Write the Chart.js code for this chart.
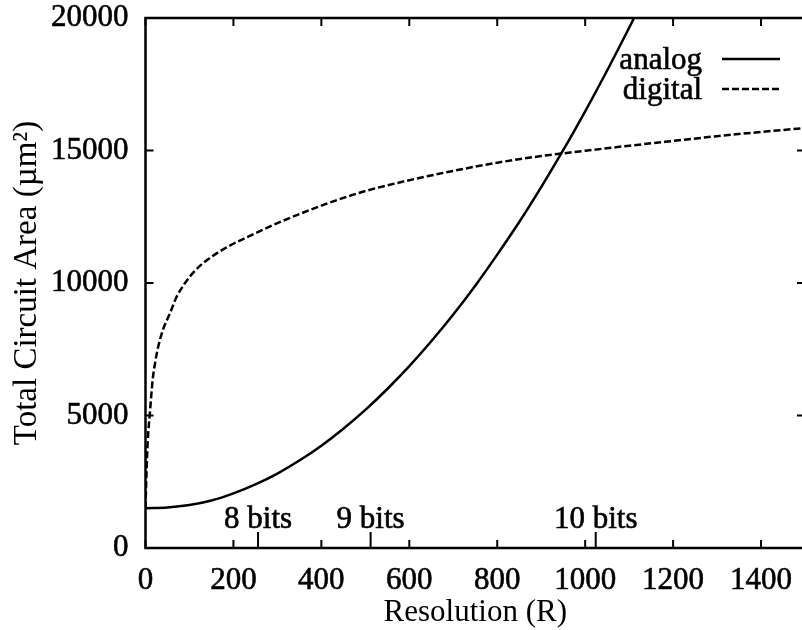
<!DOCTYPE html>
<html>
<head>
<meta charset="utf-8">
<script src="https://cdn.jsdelivr.net/npm/chart.js@4/dist/chart.umd.min.js"></script>
<style>
html,body{margin:0;padding:0;background:#fff;overflow:hidden;}
#wrap{width:810px;height:630px;}
</style>
</head>
<body>
<div id="wrap"><canvas id="c" width="810" height="630"></canvas></div>
<script>
// ---- data ----
const seriesNames = ['analog', 'digital'];

const analogR    = [0, 50, 100, 150, 200, 250, 300, 350, 400, 450, 500, 550, 600, 650, 700, 750, 800, 850, 900, 950, 1000, 1050, 1100, 1150];
const analogArea = [1500, 1530, 1620, 1790, 2060, 2400, 2810, 3300, 3860, 4500, 5210, 6000, 6860, 7800, 8810, 9900, 11070, 12300, 13620, 15010, 16480, 18020, 19630, 21320];

const digitalR    = [0, 2, 5, 10, 16, 22, 29, 40, 56, 70, 90, 110, 131, 160, 193, 230, 268, 300, 350, 400, 450, 500, 600, 700, 800, 900, 1000, 1100, 1200, 1300, 1400, 1500];
const digitalArea = [1500, 2700, 4000, 5100, 6300, 7000, 7600, 8250, 8870, 9450, 10000, 10420, 10750, 11100, 11420, 11720, 12020, 12260, 12600, 12920, 13210, 13470, 13880, 14230, 14540, 14790, 14990, 15180, 15360, 15540, 15700, 15850];

const xTickValues = [0, 200, 400, 600, 800, 1000, 1200, 1400];
const yTickValues = [0, 5000, 10000, 15000, 20000];

const bitPositions = [256, 512, 1024];
const bitLabels = ['8 bits', '9 bits', '10 bits'];

const xTitle = 'Resolution (R)';
const yTitle = 'Total Circuit Area (µm²)';

// ---- styling ----
const FONT = "'Liberation Serif', 'Times New Roman', serif";
const FS = 31;
const INK = '#000';

const decorPlugin = {
  id: 'decor',
  afterDraw(chart) {
    const ctx = chart.ctx;
    const a = chart.chartArea;
    const xs = chart.scales.x, ys = chart.scales.y;
    ctx.save();
    ctx.strokeStyle = INK;
    ctx.fillStyle = INK;
    // frame
    ctx.lineWidth = 2.5;
    ctx.strokeRect(a.left, a.top, a.right - a.left, a.bottom - a.top);
    // inward ticks
    ctx.lineWidth = 2;
    ctx.beginPath();
    xTickValues.forEach(v => {
      const px = xs.getPixelForValue(v);
      ctx.moveTo(px, a.bottom); ctx.lineTo(px, a.bottom - 8);
      ctx.moveTo(px, a.top); ctx.lineTo(px, a.top + 8);
    });
    yTickValues.forEach(v => {
      const py = ys.getPixelForValue(v);
      ctx.moveTo(a.left, py); ctx.lineTo(a.left + 8, py);
      ctx.moveTo(a.right, py); ctx.lineTo(a.right - 8, py);
    });
    // bit marks
    bitPositions.forEach(v => {
      const px = xs.getPixelForValue(v);
      ctx.moveTo(px, a.bottom); ctx.lineTo(px, a.bottom - 16);
    });
    ctx.stroke();
    // bit labels
    ctx.font = FS + 'px ' + FONT;
    ctx.textAlign = 'center';
    ctx.textBaseline = 'alphabetic';
    ctx.lineWidth = 0.6;
    bitPositions.forEach((v, i) => {
      const px = xs.getPixelForValue(v);
      ctx.fillText(bitLabels[i], px, a.bottom - 20);
      ctx.strokeText(bitLabels[i], px, a.bottom - 20);
    });
    // legend
    const rows = [a.top + 41, a.top + 71];
    chart.data.datasets.forEach((ds, i) => {
      const y = rows[i];
      ctx.textAlign = 'right';
      ctx.lineWidth = 0.6;
      ctx.fillText(ds.label, a.right - 103, y + 9.5);
      ctx.strokeText(ds.label, a.right - 103, y + 9.5);
      ctx.beginPath();
      ctx.lineWidth = ds.borderWidth;
      ctx.setLineDash(ds.borderDash || []);
      ctx.moveTo(a.right - 83, y);
      ctx.lineTo(a.right - 25, y);
      ctx.stroke();
      ctx.setLineDash([]);
    });
    ctx.restore();
  }
};

const tickFont = { family: FONT, size: FS, lineHeight: 1 };
const yTitleFont = { family: FONT, size: 33, lineHeight: 1 };
const plainNumber = v => String(v);

new Chart(document.getElementById('c'), {
  type: 'line',
  data: {
    datasets: [
      {
        label: seriesNames[0],
        data: analogR.map((r, i) => ({ x: r, y: analogArea[i] })),
        borderColor: INK, borderWidth: 2.5, pointRadius: 0,
        cubicInterpolationMode: 'monotone', fill: false
      },
      {
        label: seriesNames[1],
        data: digitalR.map((r, i) => ({ x: r, y: digitalArea[i] })),
        borderColor: INK, borderWidth: 2.5, borderDash: [7, 3], pointRadius: 0,
        cubicInterpolationMode: 'monotone', fill: false
      }
    ]
  },
  options: {
    responsive: false,
    animation: false,
    devicePixelRatio: 1,
    layout: { padding: { top: 18, right: 5, bottom: 0, left: 0 } },
    plugins: { legend: { display: false }, tooltip: { enabled: false } },
    scales: {
      x: {
        type: 'linear', min: 0, max: 1500,
        afterBuildTicks: s => { s.ticks = xTickValues.map(v => ({ value: v })); },
        afterFit: s => { s.height = 82; s.paddingLeft = 0; s.paddingRight = 0; },
        grid: { display: false, drawTicks: false },
        border: { display: false },
        ticks: { color: INK, font: tickFont, padding: 17, maxRotation: 0, autoSkip: false, callback: plainNumber,
                 textStrokeColor: INK, textStrokeWidth: 0.6 },
        title: { display: true, text: xTitle, color: INK, font: tickFont, padding: { top: 0, bottom: 1.5 } }
      },
      y: {
        type: 'linear', min: 0, max: 20000,
        afterBuildTicks: s => { s.ticks = yTickValues.map(v => ({ value: v })); },
        afterFit: s => { s.width = 145.5; s.paddingTop = 0; s.paddingBottom = 0; },
        grid: { display: false, drawTicks: false },
        border: { display: false },
        ticks: { color: INK, font: tickFont, padding: 17, autoSkip: false, callback: plainNumber,
                 textStrokeColor: INK, textStrokeWidth: 0.6 },
        title: { display: true, text: yTitle, color: INK, font: yTitleFont, padding: { top: 10.5, bottom: 9 } }
      }
    }
  },
  plugins: [decorPlugin]
});
</script>
</body>
</html>
